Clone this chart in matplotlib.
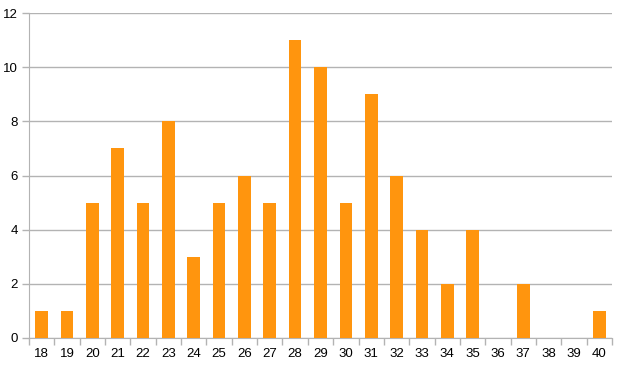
import numpy as np
import matplotlib
matplotlib.use('Agg')
import matplotlib.pyplot as plt

ages = list(range(18, 41))
counts = [1, 1, 5, 7, 5, 8, 3, 5, 6, 5, 11, 10, 5, 9, 6, 4, 2, 4, 0, 2, 0, 0, 1]

plt.rcParams['font.family'] = ['Liberation Sans', 'DejaVu Sans']

fig = plt.figure(figsize=(6.2, 3.65), dpi=100)
ax = fig.add_axes([29/620, 27/365, 583/620, 325/365])

x = np.arange(len(ages))
ax.bar(x, counts, width=0.5, color='#ff950e', zorder=3)

ax.set_xlim(-0.5, len(ages) - 0.5)
ax.set_ylim(0, 12)
ax.set_yticks(range(0, 13, 2))
ax.set_xticks(x)
ax.set_xticklabels([str(a) for a in ages])
ax.set_xticks(np.arange(-0.5, len(ages)), minor=True)
ax.tick_params(axis='x', which='major', length=0, pad=7, labelsize=9.5)
ax.tick_params(axis='x', which='minor', length=5, color='#b3b3b3', width=1)
ax.tick_params(axis='y', length=5, color='#b3b3b3', width=1, pad=3, labelsize=9.5)

ax.grid(axis='y', color='#b3b3b3', linewidth=1, zorder=0)
for side in ['top', 'right']:
    ax.spines[side].set_visible(False)
ax.spines['left'].set_color('#b3b3b3')
ax.spines['bottom'].set_color('#b3b3b3')

fig.savefig('out.png', dpi=100)
